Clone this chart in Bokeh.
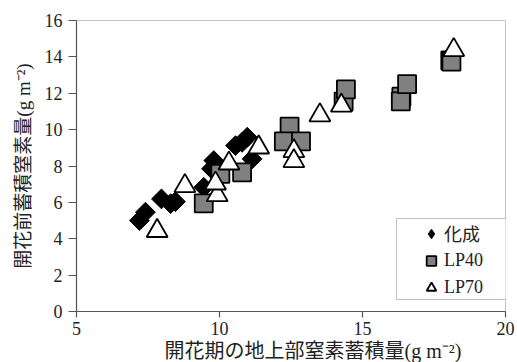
import numpy as np
from bokeh.plotting import figure
from bokeh.models import (Legend, LegendItem, Title, FixedTicker, Range1d,
                          BoxAnnotation)
from bokeh.embed import file_html
from bokeh.resources import INLINE

# 化成 (chemical fertilizer)
kasei_x = [7.20, 7.41, 7.97, 8.29, 8.46, 9.45, 9.72, 9.80, 10.56, 10.79, 10.97, 11.14]
kasei_y = [5.00, 5.46, 6.19, 5.93, 6.04, 6.83, 7.85, 8.30, 9.12, 9.30, 9.58, 8.39]

# LP40
lp40_x = [9.45, 10.03, 10.79, 12.45, 12.25, 12.85, 14.34, 14.42, 16.36, 16.34, 16.56, 18.07, 18.11]
lp40_y = [5.95, 7.57, 7.65, 10.16, 9.35, 9.35, 11.54, 12.21, 11.81, 11.55, 12.50, 13.80, 13.74]

# LP70
lp70_x = [7.82, 8.79, 9.92, 9.86, 10.33, 11.37, 12.60, 12.60, 13.51, 14.26, 18.19]
lp70_y = [4.43, 6.90, 6.40, 7.04, 8.14, 9.02, 8.82, 8.27, 10.79, 11.32, 14.38]

x_ticks = [5, 10, 15, 20]
y_ticks = [0, 2, 4, 6, 8, 10, 12, 14, 16]

series_labels = ["化成", "LP40", "LP70"]
x_title = "開花期の地上部窒素蓄積量(g m⁻²)"
y_title = "開花前蓄積窒素量(g m⁻²)"

SERIF = "Liberation Serif, Noto Sans CJK JP"

p = figure(width=517, height=362, x_range=Range1d(5, 20), y_range=Range1d(0, 16),
           output_backend="svg", toolbar_location=None,
           min_border_left=76, min_border_right=12, min_border_top=20,
           min_border_bottom=51)
p.grid.visible = False
p.outline_line_color = "#c4c4c4"
p.outline_line_width = 1
p.background_fill_color = "white"
p.border_fill_color = "white"

p.xaxis.ticker = FixedTicker(ticks=x_ticks)
p.yaxis.ticker = FixedTicker(ticks=y_ticks)
for ax in (p.xaxis[0], p.yaxis[0]):
    ax.axis_line_color = "#555555"
    ax.axis_line_width = 1.2
    ax.major_tick_line_color = "#555555"
    ax.major_tick_line_width = 1.2
    ax.major_tick_in = 0
    ax.major_tick_out = 6
    ax.minor_tick_line_color = None
    ax.major_label_text_font = SERIF
    ax.major_label_text_font_size = "18px"
    ax.major_label_text_color = "#222222"
    ax.major_label_standoff = 4
p.yaxis.major_tick_out = 8
p.yaxis.major_label_standoff = 6

p.yaxis.axis_label = y_title
p.yaxis.axis_label_text_font = SERIF
p.yaxis.axis_label_text_font_size = "19px"
p.yaxis.axis_label_text_font_style = "normal"
p.yaxis.axis_label_text_color = "#222222"
p.yaxis.axis_label_standoff = 8

# x-axis title placed under the tick labels
p.add_layout(Title(text=x_title, align="left", offset=88, standoff=0,
                   text_font=SERIF, text_font_size="20px",
                   text_font_style="normal", text_color="#222222"), "below")

# diamond swatch for the legend, hidden underneath the 化成 markers
r1_key = p.scatter(kasei_x, kasei_y, marker="diamond", size=14,
                   fill_color="black", line_color="black")
r1 = p.scatter(kasei_x, kasei_y, marker="square", angle=np.pi / 4, size=14,
               fill_color="black", line_color="black", line_width=1)
r2 = p.scatter(lp40_x, lp40_y, marker="square", size=18,
               fill_color="#808080", line_color="black", line_width=1.8)
r3 = p.scatter(lp70_x, lp70_y, marker="triangle", size=21,
               fill_color="white", line_color="black", line_width=1.8)

# legend frame
p.add_layout(BoxAnnotation(left=320, right=431, bottom=12, top=93,
                           left_units="screen", right_units="screen",
                           bottom_units="screen", top_units="screen",
                           fill_color="white", fill_alpha=1,
                           line_color="#333333", line_width=1, level="overlay"))

legend = Legend(items=[LegendItem(label=lab, renderers=[r])
                       for lab, r in zip(series_labels, [r1_key, r2, r3])],
                location=(341, 8.5), orientation="vertical",
                glyph_width=24, glyph_height=27, label_standoff=1,
                label_width=60, spacing=0, padding=2, margin=0,
                label_text_font=SERIF, label_text_font_size="18px",
                label_text_color="#222222",
                border_line_alpha=0, background_fill_alpha=0)
p.add_layout(legend)

open("out.html", "w").write(file_html(p, INLINE))
